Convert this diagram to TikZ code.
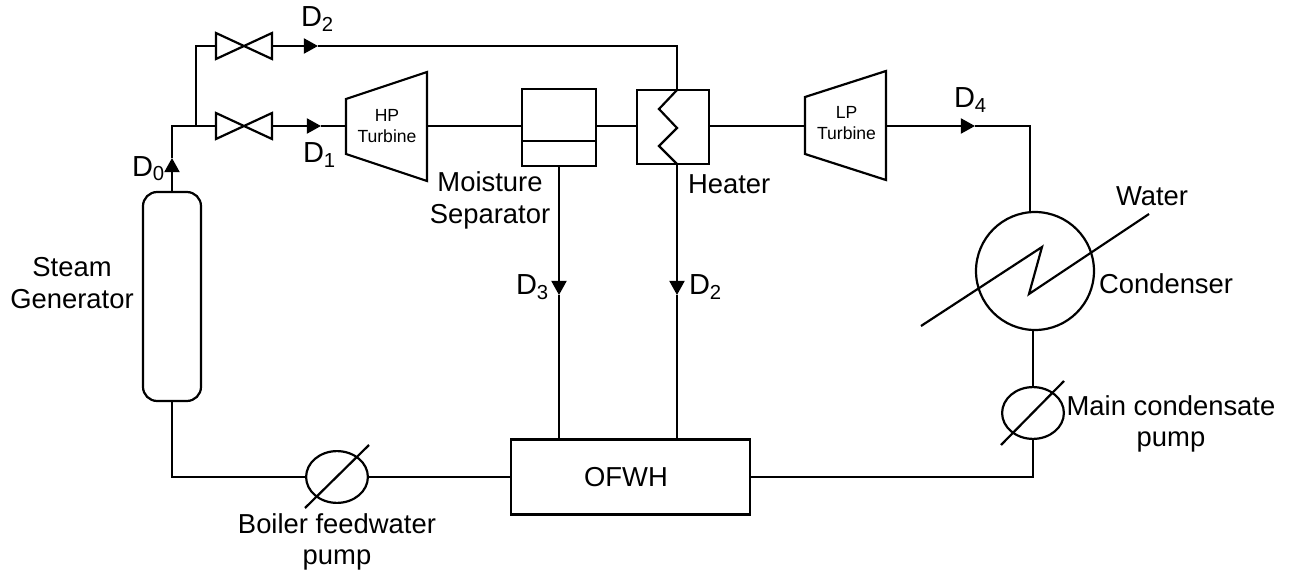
\documentclass[tikz,border=0pt]{standalone}
\usepackage{fontspec}
\setmainfont{Liberation Sans}
\usetikzlibrary{arrows.meta,shapes.geometric}

\begin{document}
\begin{tikzpicture}[x=0.02cm,y=-0.02cm,line width=1.25pt,
  every node/.style={outer sep=0pt, inner sep=0pt},
  label/.style={font=\fontsize{15.6}{17.8}\selectfont, align=center},
  dlabel/.style={font=\fontsize{16.5}{18}\selectfont, anchor=base west},
  flow/.style={-{Triangle[length=8pt,width=8.5pt]}},
  valvebox/.style={minimum width=1.12cm, minimum height=0.52cm},
  turbine/.style={font=\fontsize{10}{11.9}\selectfont, align=center, minimum width=1.62cm, minimum height=1.1cm},
  pump/.style={draw, ellipse, minimum width=1.28cm-\pgflinewidth, minimum height=1.08cm-\pgflinewidth}]
\useasboundingbox (0,0) rectangle (1289,571);

\node[draw, rounded corners=8pt, minimum width=1.16cm, minimum height=4.18cm] (gen) at (172,296.5) {};
\node[valvebox] (valvetop) at (244,46) {};
\node[valvebox] (valvebot) at (244,126) {};
\node[turbine] (hp) at (387,126) {HP\\Turbine};
\node[draw, minimum width=1.48cm, minimum height=1.54cm] (sep) at (559,127.5) {};
\node[draw, minimum width=1.44cm, minimum height=1.48cm] (heater) at (673,127) {};
\node[turbine] (lp) at (846.5,123) {LP\\Turbine};
\node[draw, circle, minimum size=2.36cm] (cond) at (1035,271) {};
\node[pump] (mainpump) at (1033,413) {};
\node[pump] (feedpump) at (337,477) {};
\node[draw, minimum width=4.78cm, minimum height=1.5cm] (ofwh) at (630.5,477) {};

\coordinate (junction) at (172,126);
\coordinate (branch) at (196,126);
\coordinate (branchtop) at (196,46);
\coordinate (corner) at (677,46);
\coordinate (heatertop) at (677,90);
\coordinate (heaterbot) at (677,164);
\coordinate (tipzero) at (172,158);
\coordinate (tiptop) at (318,46);
\coordinate (tipone) at (321,126);
\coordinate (tipthree) at (559,295);
\coordinate (tiptwo) at (677,295);
\coordinate (tipfour) at (975,126);
\coordinate (sepbot) at (559,166);
\coordinate (ofwhl) at (559,439);
\coordinate (ofwhr) at (677,439);
\coordinate (condtop) at (1030,126);
\coordinate (genbot) at (172,477);
\coordinate (mainbot) at (1033,477);
\coordinate (hpin) at (346,126);
\coordinate (lpin) at (805,126);
\coordinate (lpout) at (886,126);

% turbines
\draw (346,99) -- (427,72) -- (427,181) -- (346,154) -- cycle;
\draw (805,97) -- (886,71) -- (886,180) -- (805,154) -- cycle;
% valves
\draw (valvetop.south west) -- (valvetop.north east) -- (valvetop.south east) -- (valvetop.north west) -- cycle;
\draw (valvebot.south west) -- (valvebot.north east) -- (valvebot.south east) -- (valvebot.north west) -- cycle;
% separator and heater
\draw (522,141) -- (596,141);
\draw (heatertop) -- (659,109) -- (677,128) -- (659,146) -- (heaterbot);
% condenser coil
\draw (921,326) -- (1042,247) -- (1029,294) -- (1149,214);
% pump slashes
\draw (1001,445) -- (1064,381);
\draw (305,508) -- (369,445);

% piping
\draw[flow] (gen.north) -- (tipzero);
\draw (tipzero) -- (junction) -- (valvebot.west);
\draw (branch) -- (branchtop) -- (valvetop.west);
\draw[flow] (valvetop.east) -- (tiptop);
\draw (tiptop) -- (corner) -- (heatertop);
\draw[flow] (valvebot.east) -- (tipone);
\draw (tipone) -- (hpin);
\draw (hp.east) -- (hp.east -| sep.west);
\draw (hp.east -| sep.east) -- (hp.east -| heater.west);
\draw (lpin -| heater.east) -- (lpin);
\draw[flow] (lpout) -- (tipfour);
\draw (tipfour) -- (condtop) -- (cond.north -| condtop);
\draw[flow] (sepbot) -- (tipthree);
\draw (tipthree) -- (ofwhl);
\draw[flow] (heaterbot) -- (tiptwo);
\draw (tiptwo) -- (ofwhr);
\draw (cond.south -| mainpump) -- (mainpump.north);
\draw (mainpump.south) -- (mainbot) -- (ofwh.east);
\draw (ofwh.west) -- (feedpump.east);
\draw (feedpump.west) -- (genbot) -- (gen.south);

% labels
\node[dlabel] (labeltop) at (301,27) {D\textsubscript{2}};
\node[dlabel] (labelone) at (303,163) {D\textsubscript{1}};
\node[dlabel] (labelzero) at (132,176) {D\textsubscript{0}};
\node[dlabel] (labelthree) at (516,295) {D\textsubscript{3}};
\node[dlabel] (labeltwo) at (689,295) {D\textsubscript{2}};
\node[dlabel] (labelfour) at (954,108) {D\textsubscript{4}};
\node[label] (labelsep) at (490,200.5) {Moisture\\Separator};
\node[label, anchor=base west] (labelheater) at (688,194) {Heater};
\node[label] (labelgen) at (72,283) {Steam\\Generator};
\node[label, anchor=base west] (labelwater) at (1116,206) {Water};
\node[label, anchor=base west] (labelcond) at (1099,294) {Condenser};
\node[label] (labelmain) at (1171,424) {Main condensate\\pump};
\node[label] (labelfeed) at (337,542) {Boiler feedwater\\pump};
\node[label] (labelofwh) at (626,477) {OFWH};
\end{tikzpicture}
\end{document}
